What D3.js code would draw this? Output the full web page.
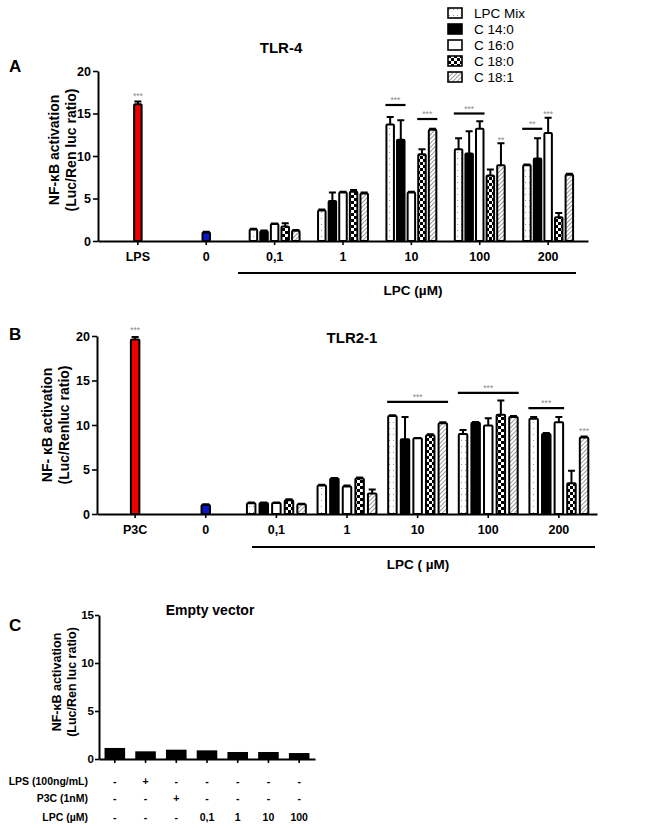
<!DOCTYPE html>
<html><head><meta charset="utf-8">
<script src="https://cdn.jsdelivr.net/npm/d3@7"></script>
<style>
body{margin:0;background:#fff}
svg{display:block}
text{font-family:"Liberation Sans",Arial,sans-serif}
</style>
</head><body>
<svg id="c" width="653" height="828"></svg>
<script>
// ---------------- DATA ----------------
const seriesNames = ["LPC Mix", "C 14:0", "C 16:0", "C 18:0", "C 18:1"];
const concLabels = ["0,1", "1", "10", "100", "200"];

// Panel A : TLR-4
const tlr4Categories = ["LPS", "0", "0,1", "1", "10", "100", "200"];
const tlr4ControlCats = ["LPS", "0"];
const tlr4ControlValues = [16.1, 1.0];
const tlr4ControlErr = [0.3, 0.1];
const tlr4LpcMix = [1.35, 3.6, 13.7, 10.8, 8.9];
const tlr4C14 = [1.15, 4.7, 11.9, 10.3, 9.7];
const tlr4C16 = [2.0, 5.7, 5.7, 13.2, 12.7];
const tlr4C180 = [1.7, 5.8, 10.2, 7.7, 2.8];
const tlr4C181 = [1.2, 5.6, 13.1, 8.9, 7.8];
const tlr4LpcMixErr = [0.1, 0.1, 0.9, 1.3, 0.1];
const tlr4C14Err = [0.1, 1.0, 2.3, 2.6, 2.4];
const tlr4C16Err = [0.05, 0.1, 0.1, 0.9, 1.8];
const tlr4C180Err = [0.4, 0.2, 0.6, 0.7, 0.5];
const tlr4C181Err = [0.1, 0.1, 0.1, 2.6, 0.1];
const tlr4SigGroup = ["LPS", "10", "10", "100", "100", "200", "200"];
const tlr4SigFrom = [-1, 0, 3, 0, 4, 0, 2];
const tlr4SigTo = [-1, 1, 4, 2, 4, 1, 2];
const tlr4SigLevel = [16.45, 16.0, 14.35, 15.0, 11.3, 13.2, 14.4];
const tlr4SigText = ["***", "***", "***", "***", "**", "**", "***"];

// Panel B : TLR2-1
const tlr21Categories = ["P3C", "0", "0,1", "1", "10", "100", "200"];
const tlr21ControlCats = ["P3C", "0"];
const tlr21ControlValues = [19.6, 1.0];
const tlr21ControlErr = [0.3, 0.1];
const tlr21LpcMix = [1.2, 3.2, 11.0, 9.0, 10.7];
const tlr21C14 = [1.25, 4.0, 8.4, 10.25, 9.0];
const tlr21C16 = [1.25, 3.1, 8.5, 9.95, 10.3];
const tlr21C180 = [1.55, 4.0, 8.85, 11.15, 3.45];
const tlr21C181 = [1.1, 2.3, 10.2, 10.9, 8.6];
const tlr21LpcMixErr = [0.1, 0.1, 0.1, 0.45, 0.2];
const tlr21C14Err = [0.05, 0.05, 2.5, 0.1, 0.1];
const tlr21C16Err = [0.05, 0.1, 0.05, 0.8, 0.6];
const tlr21C180Err = [0.1, 0.1, 0.1, 1.6, 1.4];
const tlr21C181Err = [0.05, 0.45, 0.1, 0.1, 0.1];
const tlr21SigGroup = ["P3C", "10", "100", "200", "200"];
const tlr21SigFrom = [-1, 0, 0, 0, 4];
const tlr21SigTo = [-1, 4, 4, 2, 4];
const tlr21SigLevel = [20.1, 12.6, 13.6, 11.9, 8.8];
const tlr21SigText = ["***", "***", "***", "***", "***"];

// Panel C : Empty vector
const emptyCategories = ["c1", "c2", "c3", "c4", "c5", "c6", "c7"];
const emptyValues = [1.15, 0.8, 0.97, 0.9, 0.73, 0.73, 0.62];
const emptyRowLabels = ["LPS (100ng/mL)", "P3C (1nM)", "LPC (\u00b5M)"];
const emptyRowLPS = ["-", "+", "-", "-", "-", "-", "-"];
const emptyRowP3C = ["-", "-", "+", "-", "-", "-", "-"];
const emptyRowLPC = ["-", "-", "-", "0,1", "1", "10", "100"];

const yTicks20 = [0, 5, 10, 15, 20];
const yTicks15 = [0, 5, 10, 15];

// ---------------- DRAW ----------------
const svg = d3.select("#c");
const defs = svg.append("defs");
const pDots = defs.append("pattern").attr("id", "pDots").attr("patternUnits", "userSpaceOnUse").attr("width", 4).attr("height", 6);
pDots.append("rect").attr("width", 4).attr("height", 6).attr("fill", "#fff");
pDots.append("rect").attr("x", 1).attr("y", 2).attr("width", 1).attr("height", 1).attr("fill", "#999");
const pCheck = defs.append("pattern").attr("id", "pCheck").attr("patternUnits", "userSpaceOnUse").attr("width", 6).attr("height", 6);
pCheck.append("rect").attr("width", 6).attr("height", 6).attr("fill", "#fff");
pCheck.append("rect").attr("width", 3).attr("height", 3).attr("fill", "#000");
pCheck.append("rect").attr("x", 3).attr("y", 3).attr("width", 3).attr("height", 3).attr("fill", "#000");
const pHatch = defs.append("pattern").attr("id", "pHatch").attr("patternUnits", "userSpaceOnUse").attr("width", 3).attr("height", 3).attr("patternTransform", "rotate(45)");
pHatch.append("rect").attr("width", 3).attr("height", 3).attr("fill", "#fff");
pHatch.append("line").attr("x1", 0).attr("y1", 0).attr("x2", 0).attr("y2", 3).attr("stroke", "#555").attr("stroke-width", 1.2);

const seriesFill = d3.scaleOrdinal().domain(seriesNames)
  .range(["url(#pDots)", "#000", "#fff", "url(#pCheck)", "url(#pHatch)"]);
const controlFill = ["#ee0000", "#0a14c8"];

function styleAxis(a, fs) {
  a.select(".domain").attr("stroke", "#000").attr("stroke-width", 2);
  a.selectAll(".tick line").attr("stroke", "#000").attr("stroke-width", 1.6);
  a.selectAll(".tick text").attr("font-size", fs).attr("font-weight", "bold")
    .attr("font-family", "'Liberation Sans',Arial,sans-serif").attr("fill", "#000");
}

function groupedPanel(o) {
  const g = svg.append("g");
  const y = d3.scaleLinear().domain([0, o.yMax]).range([o.y0, o.y1]);
  const x = d3.scaleBand().domain(o.categories).range([o.x0, o.x1]).paddingInner(0).paddingOuter(o.padOuter);
  const inner = d3.scaleBand().domain(seriesNames).range([-o.groupW / 2, o.groupW / 2]);
  const cx = c => x(c) + x.bandwidth() / 2;
  const sx = (c, s) => cx(c) + inner(s) + inner.bandwidth() / 2;

  const ya = g.append("g").attr("transform", `translate(${o.x0},0)`)
    .call(d3.axisLeft(y).tickValues(o.yTicks).tickSize(5).tickSizeOuter(0).tickPadding(2));
  styleAxis(ya, 12.5);
  const xa = g.append("g").attr("transform", `translate(0,${o.y0})`)
    .call(d3.axisBottom(x).tickSize(4).tickSizeOuter(0).tickPadding(7));
  styleAxis(xa, 12.5);

  const bw = o.barW;
  const ctrl = o.controlCats.map((c, i) => ({ c, v: o.controlValues[i], e: o.controlErr[i], fill: controlFill[i] }));
  const bars = [];
  seriesNames.forEach((s, si) => {
    o.values[si].forEach((v, gi) => bars.push({ x: sx(concLabels[gi], s), v, e: o.errs[si][gi], fill: seriesFill(s) }));
  });
  ctrl.forEach(d => bars.push({ x: cx(d.c), v: d.v, e: d.e, fill: d.fill }));

  g.append("g").selectAll("path").data(bars).join("path")
    .attr("d", d => `M${d.x},${y(d.v)}V${y(d.v + d.e)}M${d.x - 3.5},${y(d.v + d.e)}H${d.x + 3.5}`)
    .attr("stroke", "#000").attr("stroke-width", 2).attr("fill", "none");
  g.append("g").selectAll("rect").data(bars).join("rect")
    .attr("x", d => d.x - bw / 2).attr("width", bw)
    .attr("y", d => y(d.v)).attr("height", d => o.y0 - y(d.v))
    .attr("fill", d => d.fill).attr("stroke", "#000").attr("stroke-width", 2).attr("rx", 1);

  const sig = o.sigGroup.map((grp, i) => ({ grp, f: o.sigFrom[i], t: o.sigTo[i], lv: o.sigLevel[i], txt: o.sigText[i] }));
  sig.forEach(d => {
    let xa0, xa1;
    if (d.f < 0) { xa0 = cx(d.grp) - bw / 2; xa1 = cx(d.grp) + bw / 2; }
    else { xa0 = sx(d.grp, seriesNames[d.f]) - bw / 2 - 1; xa1 = sx(d.grp, seriesNames[d.t]) + bw / 2 + 1; }
    const ly = y(d.lv);
    if (d.t !== d.f) {
      g.append("line").attr("x1", xa0).attr("x2", xa1).attr("y1", ly).attr("y2", ly)
        .attr("stroke", "#000").attr("stroke-width", 2.2);
    }
    g.append("text").attr("x", (xa0 + xa1) / 2).attr("y", ly - 2).attr("text-anchor", "middle")
      .attr("font-size", 8.5).attr("fill", "#888").text(d.txt);
  });

  g.append("line").attr("x1", o.brX0).attr("x2", o.brX1).attr("y1", o.brY).attr("y2", o.brY)
    .attr("stroke", "#000").attr("stroke-width", 2);
  g.append("text").attr("x", o.lpcX).attr("y", o.lpcY).attr("text-anchor", "middle")
    .attr("font-size", 13.5).attr("font-weight", "bold").text(o.lpcText);

  g.append("text").attr("x", o.titleX).attr("y", o.titleY).attr("text-anchor", "middle")
    .attr("font-size", 15).attr("font-weight", "bold").text(o.title);
  g.append("text").attr("x", 9).attr("y", o.letterY).attr("font-size", 17).attr("font-weight", "bold").text(o.letter);
  const yl = g.append("text").attr("transform", `translate(${o.ylX},${o.ylY}) rotate(-90)`)
    .attr("text-anchor", "middle").attr("font-size", 14).attr("font-weight", "bold");
  yl.append("tspan").attr("x", 0).attr("dy", 0).text(o.ylab1);
  yl.append("tspan").attr("x", 0).attr("dy", 17).text(o.ylab2);
}

groupedPanel({
  categories: tlr4Categories, yMax: 20, yTicks: yTicks20,
  x0: 98, x1: 588, y0: 241, y1: 71, padOuter: 0.083, groupW: 53, barW: 7.5,
  controlCats: tlr4ControlCats, controlValues: tlr4ControlValues, controlErr: tlr4ControlErr,
  values: [tlr4LpcMix, tlr4C14, tlr4C16, tlr4C180, tlr4C181],
  errs: [tlr4LpcMixErr, tlr4C14Err, tlr4C16Err, tlr4C180Err, tlr4C181Err],
  sigGroup: tlr4SigGroup, sigFrom: tlr4SigFrom, sigTo: tlr4SigTo, sigLevel: tlr4SigLevel, sigText: tlr4SigText,
  brX0: 238, brX1: 576, brY: 273, lpcX: 413, lpcY: 295, lpcText: "LPC (\u00b5M)",
  title: "TLR-4", titleX: 281, titleY: 53, letter: "A", letterY: 72,
  ylX: 59, ylY: 150, ylab1: "NF-\u03baB activation", ylab2: "(Luc/Ren luc ratio)"
});

groupedPanel({
  categories: tlr21Categories, yMax: 20, yTicks: yTicks20,
  x0: 97, x1: 597, y0: 514, y1: 336, padOuter: 0.04, groupW: 63, barW: 8.5,
  controlCats: tlr21ControlCats, controlValues: tlr21ControlValues, controlErr: tlr21ControlErr,
  values: [tlr21LpcMix, tlr21C14, tlr21C16, tlr21C180, tlr21C181],
  errs: [tlr21LpcMixErr, tlr21C14Err, tlr21C16Err, tlr21C180Err, tlr21C181Err],
  sigGroup: tlr21SigGroup, sigFrom: tlr21SigFrom, sigTo: tlr21SigTo, sigLevel: tlr21SigLevel, sigText: tlr21SigText,
  brX0: 252, brX1: 595, brY: 547, lpcX: 418, lpcY: 569, lpcText: "LPC ( \u00b5M)",
  title: "TLR2-1", titleX: 352, titleY: 343, letter: "B", letterY: 340,
  ylX: 52, ylY: 425, ylab1: "NF- \u03baB activation", ylab2: "(Luc/Renluc ratio)"
});

// Panel C
(function () {
  const g = svg.append("g");
  const y = d3.scaleLinear().domain([0, 15]).range([759, 615]);
  const x = d3.scaleBand().domain(emptyCategories).range([99, 315]).paddingInner(0.33).paddingOuter(0.18);
  const ya = g.append("g").attr("transform", "translate(99,0)")
    .call(d3.axisLeft(y).tickValues(yTicks15).tickSize(4).tickSizeOuter(0).tickPadding(1));
  styleAxis(ya, 11.5);
  const xa = g.append("g").attr("transform", "translate(0,759)")
    .call(d3.axisBottom(x).tickSize(4).tickSizeOuter(0).tickFormat(""));
  styleAxis(xa, 11);
  g.append("g").selectAll("rect").data(emptyValues).join("rect")
    .attr("x", (d, i) => x(emptyCategories[i])).attr("width", x.bandwidth())
    .attr("y", d => y(d)).attr("height", d => 759 - y(d)).attr("fill", "#000");
  const rows = [emptyRowLPS, emptyRowP3C, emptyRowLPC];
  const rowY = [785, 802, 821];
  rows.forEach((r, ri) => {
    g.append("text").attr("x", 88).attr("y", rowY[ri]).attr("text-anchor", "end")
      .attr("font-size", 10.5).attr("font-weight", "bold").text(emptyRowLabels[ri]);
    g.append("g").selectAll("text").data(r).join("text")
      .attr("x", (d, i) => x(emptyCategories[i]) + x.bandwidth() / 2).attr("y", rowY[ri])
      .attr("text-anchor", "middle").attr("font-size", 10.5).attr("font-weight", "bold").text(d => d);
  });
  g.append("text").attr("x", 210).attr("y", 615).attr("text-anchor", "middle")
    .attr("font-size", 14).attr("font-weight", "bold").text("Empty vector");
  g.append("text").attr("x", 9).attr("y", 631).attr("font-size", 17).attr("font-weight", "bold").text("C");
  const yl = g.append("text").attr("transform", "translate(61,682) rotate(-90)")
    .attr("text-anchor", "middle").attr("font-size", 12.5).attr("font-weight", "bold");
  yl.append("tspan").attr("x", 0).attr("dy", 0).text("NF-\u03baB activation");
  yl.append("tspan").attr("x", 0).attr("dy", 15).text("(Luc/Ren luc ratio)");
})();

// Legend
const legY = d3.scalePoint().domain(seriesNames).range([13, 77]);
const leg = svg.append("g").selectAll("g").data(seriesNames).join("g")
  .attr("transform", d => `translate(448,${legY(d)})`);
leg.append("rect").attr("x", 0).attr("y", -5).attr("width", 14).attr("height", 10)
  .attr("fill", d => seriesFill(d)).attr("stroke", "#000").attr("stroke-width", 1.6);
leg.append("text").attr("x", 26).attr("y", 5).attr("font-size", 13.5).text(d => d);
</script>
</body></html>
